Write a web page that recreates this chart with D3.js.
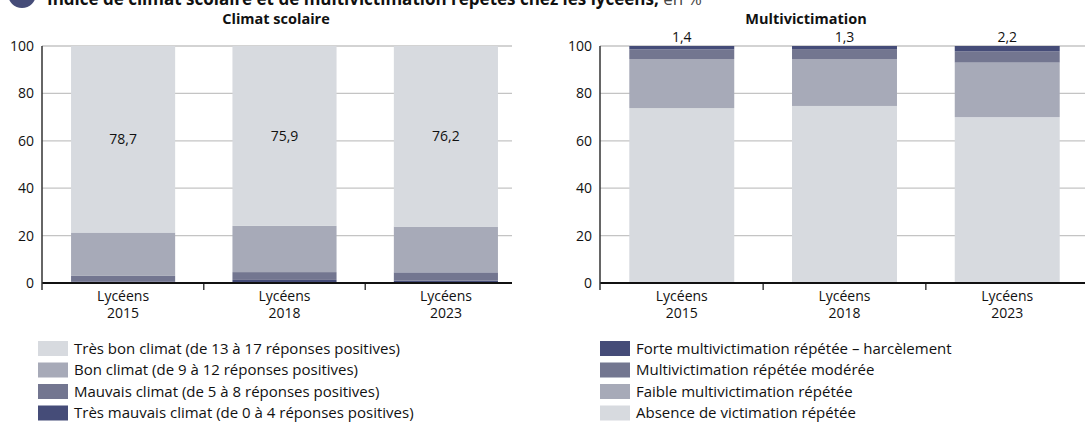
<!DOCTYPE html>
<html><head><meta charset="utf-8">
<script src="https://cdn.jsdelivr.net/npm/d3@7"></script>
<style>
body{margin:0;background:#fff;}
svg{font-family:"Open Sans",sans-serif;}
</style></head>
<body><svg id="c" width="1085" height="422"></svg>
<script>
const title = "Indice de climat scolaire et de multivictimation répétés chez les lycéens,";
const titleUnit = " en %";
const categories = ["Lycéens|2015","Lycéens|2018","Lycéens|2023"];
const yTicks = [0,20,40,60,80,100];

// Climat scolaire (bottom to top)
const climatSeries = ["Très mauvais climat (de 0 à 4 réponses positives)","Mauvais climat (de 5 à 8 réponses positives)","Bon climat (de 9 à 12 réponses positives)","Très bon climat (de 13 à 17 réponses positives)"];
const tresMauvais = [0.5,1.3,1.0];
const mauvais = [2.5,3.3,3.5];
const bon = [18.3,19.5,19.3];
const tresBon = [78.7,75.9,76.2];

// Multivictimation (bottom to top)
const multiSeries = ["Absence de victimation répétée","Faible multivictimation répétée","Multivictimation répétée modérée","Forte multivictimation répétée – harcèlement"];
const absence = [73.8,74.7,70.0];
const faible = [20.7,19.8,23.0];
const moderee = [4.1,4.2,4.8];
const forte = [1.4,1.3,2.2];

const colors = ["#454c78","#737690","#a7aab8","#d7dadf"];
const colorsMulti = ["#d7dadf","#a7aab8","#737690","#454c78"];
const fmt = v => String(v.toFixed(1)).replace(".", ",");

const svg = d3.select("#c");

// Title (cropped at top in reference)
svg.append("circle").attr("cx",22).attr("cy",-6).attr("r",14).attr("fill","#454c78");
const tt = svg.append("text").attr("x",47).attr("y",5).attr("font-size",17).attr("font-weight",700).attr("fill","#111");
tt.append("tspan").text(title);
tt.append("tspan").attr("font-weight",400).attr("fill","#444").text(titleUnit);

function panel(opts){
  const {x0,x1,gridEnd,subX,subtitle,series,data,cols,labelMode} = opts;
  const g = svg.append("g");
  const x = d3.scaleBand().domain(categories).range([x0,x1]).paddingInner(0.355).paddingOuter(0.18);
  const y = d3.scaleLinear().domain([0,100]).range([283,46]);
  // subtitle
  g.append("text").attr("x",subX).attr("y",24).attr("text-anchor","middle")
    .attr("font-size",14.5).attr("font-weight",700).attr("fill","#111").text(subtitle);
  // gridlines
  g.selectAll(".grid").data(yTicks.filter(d=>d>0)).join("line")
    .attr("x1",x0).attr("x2",gridEnd).attr("y1",d=>y(d)).attr("y2",d=>y(d))
    .attr("stroke","#c4c4c4").attr("stroke-width",1.3);
  // y axis
  const ya = g.append("g").attr("transform",`translate(${x0},0)`).call(d3.axisLeft(y).tickValues(yTicks).tickSize(0).tickPadding(8));
  ya.select(".domain").remove();
  ya.selectAll("text").attr("font-size",14).attr("fill","#111").attr("font-family","Open Sans");
  // stacks
  const rows = categories.map((c,i)=>{const o={cat:c}; series.forEach((s,k)=>o[s]=data[k][i]); return o;});
  const stack = d3.stack().keys(series)(rows);
  stack.forEach((layer,k)=>{
    g.selectAll(null).data(layer).join("rect")
      .attr("x",d=>x(d.data.cat)).attr("width",x.bandwidth())
      .attr("y",d=>y(d[1])).attr("height",d=>y(d[0])-y(d[1]))
      .attr("fill",cols[k]);
  });
  // baseline and axis line
  g.append("line").attr("x1",x0).attr("x2",gridEnd).attr("y1",y(0)).attr("y2",y(0)).attr("stroke","#111").attr("stroke-width",2);
  g.append("line").attr("x1",x0).attr("x2",x0).attr("y1",y(100)).attr("y2",y(0)+7).attr("stroke","#333").attr("stroke-width",1.5);
  // category ticks
  const step = x.step();
  categories.slice(1).forEach((c,i)=>{
    const tx = x(c) - step*x.paddingInner()/2;
    g.append("line").attr("x1",tx).attr("x2",tx).attr("y1",y(0)).attr("y2",y(0)+7).attr("stroke","#111").attr("stroke-width",1.2);
  });
  // category labels
  categories.forEach(c=>{
    const [a,b] = c.split("|");
    const cx = x(c)+x.bandwidth()/2;
    g.append("text").attr("text-anchor","middle").attr("font-size",14).attr("fill","#111")
      .attr("x",cx).attr("y",301).text(a);
    g.append("text").attr("text-anchor","middle").attr("font-size",14).attr("fill","#111")
      .attr("x",cx).attr("y",318).text(b);
  });
  // value labels
  const L = stack[stack.length-1];
  if(labelMode==="top"){
    g.selectAll(null).data(L).join("text")
      .attr("x",d=>x(d.data.cat)+x.bandwidth()/2).attr("y",y(100)-4).attr("text-anchor","middle")
      .attr("font-size",14).attr("fill","#111").text(d=>fmt(d[1]-d[0]));
  } else {
    g.selectAll(null).data(L).join("text")
      .attr("x",d=>x(d.data.cat)+x.bandwidth()/2).attr("y",d=>(y(d[0])+y(d[1]))/2+5).attr("text-anchor","middle")
      .attr("font-size",14).attr("fill","#111").text(d=>fmt(d[1]-d[0]));
  }
}

panel({x0:42,x1:527,gridEnd:512,subX:276,subtitle:"Climat scolaire",series:climatSeries,data:[tresMauvais,mauvais,bon,tresBon],cols:colors,labelMode:"center"});
panel({x0:600,x1:1089,gridEnd:1085,subX:806,subtitle:"Multivictimation",series:multiSeries,data:[absence,faible,moderee,forte],cols:colorsMulti,labelMode:"top"});

// Legends
function legend(x0, items, cols){
  const g = svg.append("g");
  items.forEach((s,i)=>{
    const yy = 341 + i*21.5;
    g.append("rect").attr("x",x0).attr("y",yy).attr("width",30).attr("height",15).attr("fill",cols[i]);
    g.append("text").attr("x",x0+36).attr("y",yy+12.5).attr("font-size",15).attr("fill","#111").text(s);
  });
}
legend(38, [climatSeries[3],climatSeries[2],climatSeries[1],climatSeries[0]], [colors[3],colors[2],colors[1],colors[0]]);
legend(600, [multiSeries[3],multiSeries[2],multiSeries[1],multiSeries[0]], [colorsMulti[3],colorsMulti[2],colorsMulti[1],colorsMulti[0]]);
</script></body></html>
